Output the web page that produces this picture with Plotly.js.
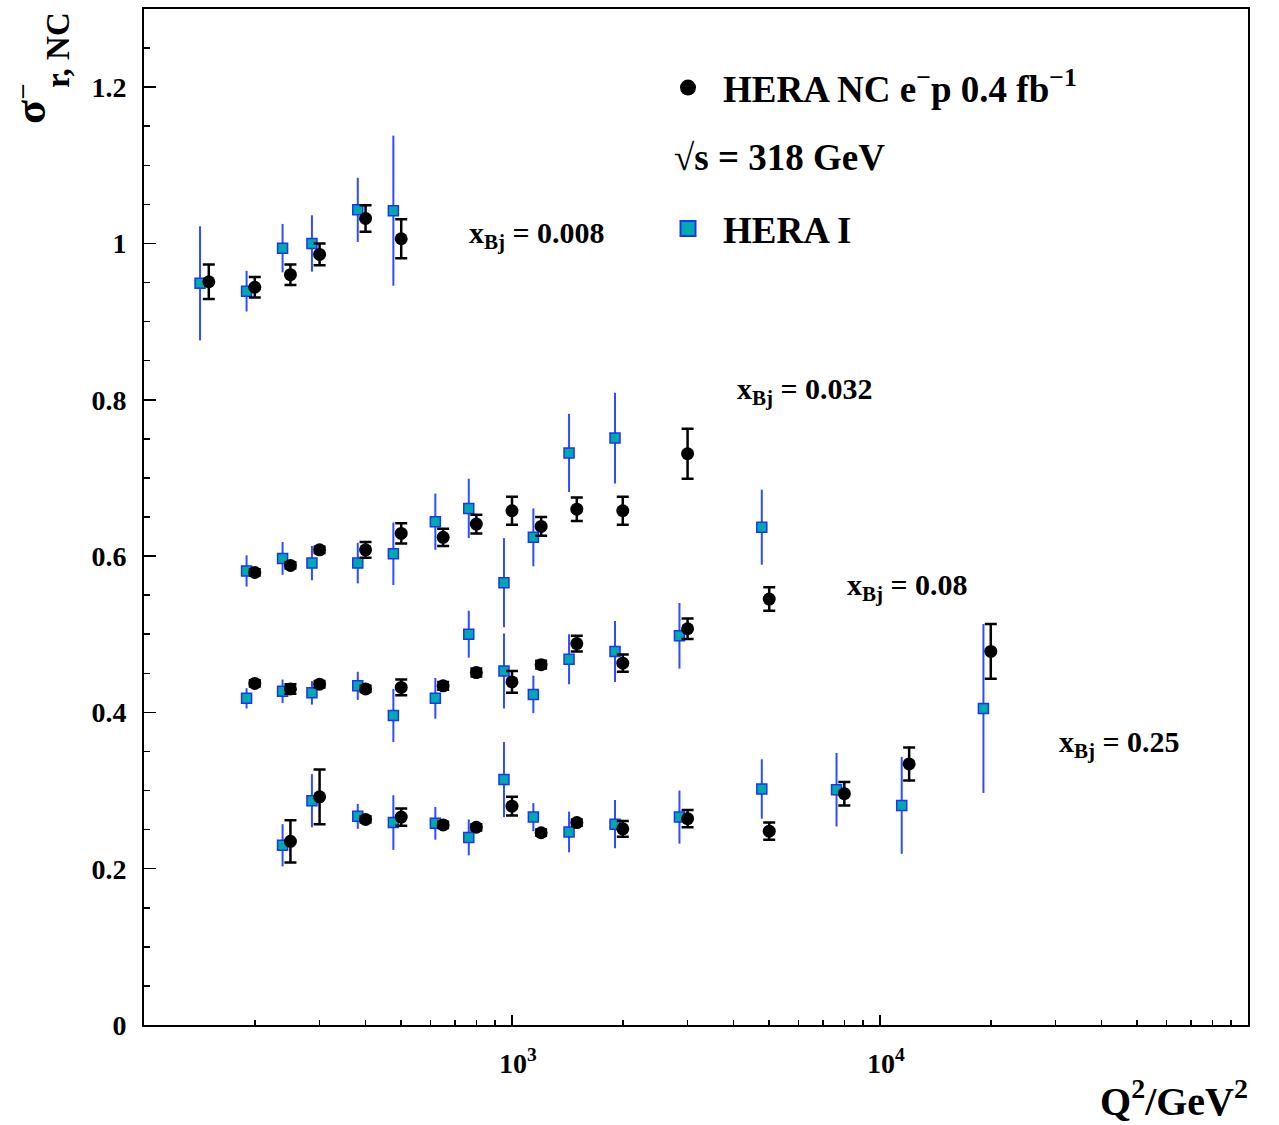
<!DOCTYPE html>
<html>
<head>
<meta charset="utf-8">
<script src="https://cdn.plot.ly/plotly-3.0.1.min.js"></script>
<style>html,body{margin:0;padding:0;background:#fff;}#chart{width:1279px;height:1125px;}</style>
</head>
<body>
<div id="chart"></div>
<script>
// ---- x_Bj = 0.008 ----
const q2_008 = [150, 200, 250, 300, 400, 500];
const sig_008 = [0.951, 0.944, 0.960, 0.986, 1.032, 1.006];
const err_008 = [0.022, 0.013, 0.013, 0.014, 0.017, 0.025];
const q2I_008 = [142, 190, 238, 286, 381, 476];
const sigI_008 = [0.949, 0.939, 0.994, 1.000, 1.043, 1.042];
const errI_008 = [0.073, 0.026, 0.031, 0.036, 0.041, 0.096];

// ---- x_Bj = 0.032 ----
const q2_032 = [200, 250, 300, 400, 500, 650, 800, 1000, 1200, 1500, 2000, 3000];
const sig_032 = [0.579, 0.588, 0.608, 0.608, 0.629, 0.624, 0.641, 0.658, 0.638, 0.660, 0.658, 0.731];
const err_032 = [0.004, 0.004, 0.004, 0.010, 0.013, 0.011, 0.012, 0.018, 0.012, 0.015, 0.018, 0.032];
const q2I_032 = [190, 238, 286, 381, 476, 619, 763, 951, 1143, 1429, 1905];
const sigI_032 = [0.581, 0.597, 0.591, 0.591, 0.603, 0.644, 0.661, 0.566, 0.624, 0.732, 0.751];
const errI_032 = [0.020, 0.021, 0.022, 0.026, 0.040, 0.036, 0.038, 0.057, 0.037, 0.050, 0.058];

// ---- x_Bj = 0.08 ----
const q2_08 = [200, 250, 300, 400, 500, 650, 800, 1000, 1200, 1500, 2000, 3000, 5000];
const sig_08 = [0.437, 0.430, 0.436, 0.430, 0.432, 0.434, 0.451, 0.439, 0.461, 0.488, 0.463, 0.507, 0.545];
const err_08 = [0.004, 0.006, 0.004, 0.004, 0.010, 0.005, 0.005, 0.014, 0.005, 0.010, 0.011, 0.013, 0.015];
const q2I_08 = [190, 238, 286, 381, 476, 619, 763, 951, 1143, 1429, 1905, 2851, 4773];
const sigI_08 = [0.418, 0.427, 0.425, 0.434, 0.396, 0.418, 0.500, 0.453, 0.423, 0.468, 0.478, 0.498, 0.637];
const errI_08 = [0.013, 0.015, 0.015, 0.018, 0.034, 0.026, 0.030, 0.048, 0.024, 0.032, 0.039, 0.042, 0.048];

// ---- x_Bj = 0.25 ----
const q2_25 = [250, 300, 400, 500, 650, 800, 1000, 1200, 1500, 2000, 3000, 5000, 8000, 12000, 20000];
const sig_25 = [0.235, 0.292, 0.263, 0.266, 0.256, 0.253, 0.280, 0.246, 0.259, 0.251, 0.264, 0.248, 0.296, 0.334, 0.478];
const err_25 = [0.027, 0.035, 0.004, 0.011, 0.004, 0.004, 0.012, 0.004, 0.004, 0.010, 0.011, 0.011, 0.015, 0.021, 0.035];
const q2I_25 = [238, 286, 381, 476, 619, 763, 951, 1143, 1429, 1905, 2851, 4773, 7619, 11456, 19100];
const sigI_25 = [0.230, 0.287, 0.267, 0.259, 0.258, 0.240, 0.314, 0.266, 0.247, 0.257, 0.266, 0.302, 0.301, 0.281, 0.405];
const errI_25 = [0.027, 0.034, 0.016, 0.035, 0.021, 0.023, 0.048, 0.018, 0.026, 0.031, 0.034, 0.038, 0.047, 0.062, 0.108];

// labels
const xbjLabels = ['0.008', '0.032', '0.08', '0.25'];
const xTickVals = [1000, 10000];
const xTickText = ['10<sup>3</sup>', '10<sup>4</sup>'];
const yTickVals = [0, 0.2, 0.4, 0.6, 0.8, 1.0, 1.2];
const yTickText = ['0', '0.2', '0.4', '0.6', '0.8', '1', '1.2'];
const xMinor = [200,300,400,500,600,700,800,900,2000,3000,4000,5000,6000,7000,8000,9000,20000,30000,40000,50000,60000,70000,80000,90000];
const yMinor = [0.05,0.1,0.15,0.25,0.3,0.35,0.45,0.5,0.55,0.65,0.7,0.75,0.85,0.9,0.95,1.05,1.1,1.15,1.25];
const nameHera = 'HERA NC e<sup>\u2212</sup>p 0.4 fb<sup>\u22121</sup>';
const nameHeraI = 'HERA I';

const FONT = 'Liberation Serif, Times New Roman, serif';
const W = 1279, H = 1125, L = 144, R = 31, T = 9, B = 100;
const pw = W - L - R, ph = H - T - B;
const px = v => (v - L) / pw;
const py = v => (H - B - v) / ph;

const hera = {
  x: [].concat(q2_008, q2_032, q2_08, q2_25),
  y: [].concat(sig_008, sig_032, sig_08, sig_25),
  err: [].concat(err_008, err_032, err_08, err_25)
};
const heraI = {
  x: [].concat(q2I_008, q2I_032, q2I_08, q2I_25),
  y: [].concat(sigI_008, sigI_032, sigI_08, sigI_25),
  err: [].concat(errI_008, errI_032, errI_08, errI_25)
};

const sqFill = '#00aaaa', sqLine = '#1a33ff', sqErr = '#2f4dff';

const traces = [
  {
    type: 'scatter', mode: 'markers', name: nameHeraI, showlegend: false,
    x: heraI.x, y: heraI.y,
    error_y: {type: 'data', array: heraI.err, visible: true, color: sqErr, thickness: 2, width: 0},
    marker: {symbol: 'square', size: 10, color: sqFill, line: {color: sqLine, width: 1.5}}
  },
  {
    type: 'scatter', mode: 'markers', name: nameHera, showlegend: false,
    x: hera.x, y: hera.y,
    error_y: {type: 'data', array: hera.err, visible: true, color: '#000', thickness: 2.5, width: 6},
    marker: {symbol: 'circle', size: 13, color: '#000'}
  },
  // legend-only entries (no data points)
  {
    type: 'scatter', mode: 'markers', name: nameHera, x: [null], y: [null],
    marker: {symbol: 'circle', size: 16, color: '#000'}, legend: 'legend', hoverinfo: 'skip'
  },
  {
    type: 'scatter', mode: 'markers', name: nameHeraI, x: [null], y: [null],
    marker: {symbol: 'square', size: 15, color: sqFill, line: {color: sqLine, width: 2}}, legend: 'legend2', hoverinfo: 'skip'
  }
];

const labelPos = [[467, 235], [735, 391], [845, 587], [1057, 744]];
const annotations = xbjLabels.map((v, i) => ({
  xref: 'paper', yref: 'paper', x: px(labelPos[i][0]), y: py(labelPos[i][1]),
  xanchor: 'left', yanchor: 'middle', showarrow: false,
  text: 'x<sub>Bj</sub> = ' + v,
  font: {family: FONT, size: 30, color: '#000', weight: 'bold'}
}));
annotations.push({
  xref: 'paper', yref: 'paper', x: px(672), y: py(158), xanchor: 'left', yanchor: 'middle',
  showarrow: false, text: '\u221As = 318 GeV',
  font: {family: FONT, size: 37, color: '#000', weight: 'bold'}
});
annotations.push({
  xref: 'paper', yref: 'paper', x: px(1250), y: py(1098), xanchor: 'right', yanchor: 'middle',
  showarrow: false, text: 'Q<sup>2</sup>/GeV<sup>2</sup>',
  font: {family: FONT, size: 40, color: '#000', weight: 'bold'}
});
annotations.push({
  xref: 'paper', yref: 'paper', x: px(30), y: py(112), xanchor: 'center', yanchor: 'middle',
  showarrow: false, text: '\u03C3', textangle: -90,
  font: {family: FONT, size: 44, color: '#000', weight: 'bold'}
});
annotations.push({
  xref: 'paper', yref: 'paper', x: px(21), y: py(92), xanchor: 'center', yanchor: 'middle',
  showarrow: false, text: '\u2013', textangle: -90,
  font: {family: FONT, size: 26, color: '#000', weight: 'bold'}
});
annotations.push({
  xref: 'paper', yref: 'paper', x: px(58), y: py(50), xanchor: 'center', yanchor: 'middle',
  showarrow: false, text: 'r, NC', textangle: -90,
  font: {family: FONT, size: 33, color: '#000', weight: 'bold'}
});

const axisCommon = {
  showgrid: false, zeroline: false, showline: true, linecolor: '#000', linewidth: 2, mirror: true,
  ticks: 'inside', tickcolor: '#000', tickwidth: 1.5,
  tickfont: {family: FONT, size: 28, color: '#000', weight: 'bold'}
};

const legendCommon = {
  xanchor: 'left', yanchor: 'middle', bgcolor: 'rgba(0,0,0,0)', borderwidth: 0, itemwidth: 60,
  font: {family: FONT, size: 37, color: '#000', weight: 'bold'}
};

const layout = {
  width: W, height: H,
  margin: {l: L, r: R, t: T, b: B, pad: 0},
  paper_bgcolor: '#fff', plot_bgcolor: '#fff',
  showlegend: true,
  xaxis: Object.assign({}, axisCommon, {
    type: 'log', range: [2, 5], tickmode: 'array', tickvals: xTickVals, ticktext: xTickText,
    ticklen: 10, ticklabelstandoff: 12, ticklabelshift: 6,
    minor: {tickmode: 'array', tickvals: xMinor, ticks: 'inside', ticklen: 5, tickcolor: '#000', tickwidth: 1.5, showgrid: false}
  }),
  yaxis: Object.assign({}, axisCommon, {
    range: [0, 1.3], tickmode: 'array', tickvals: yTickVals, ticktext: yTickText,
    ticklen: 12, ticklabelstandoff: 10,
    minor: {tickmode: 'array', tickvals: yMinor, ticks: 'inside', ticklen: 6, tickcolor: '#000', tickwidth: 1.5, showgrid: false}
  }),
  legend: Object.assign({}, legendCommon, {x: px(653), y: py(88)}),
  legend2: Object.assign({}, legendCommon, {x: px(653), y: py(229)}),
  annotations: annotations
};

Plotly.newPlot('chart', traces, layout, {displayModeBar: false, staticPlot: true});
</script>
</body>
</html>
